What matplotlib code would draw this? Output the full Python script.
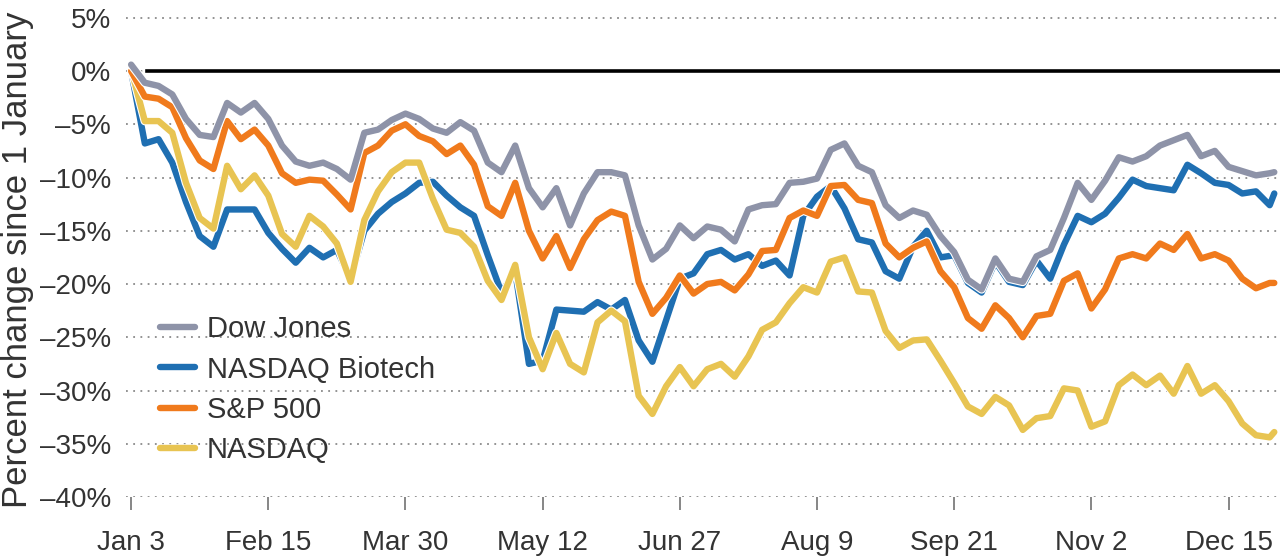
" 2022 index performance, percent change since 1 January "
import matplotlib
matplotlib.use("Agg")
import matplotlib.pyplot as plt
import matplotlib.patheffects as pe
import numpy as np

# trading day index (0 = Jan 3), sampled every 3 sessions + last session
day = np.r_[np.arange(0, 250, 3), 250]

dow = [0.6, -1.1, -1.4, -2.2, -4.5, -6.0, -6.2, -3.0, -3.9, -3.0,
       -4.5, -7.0, -8.5, -8.9, -8.6, -9.2, -10.2, -5.8, -5.5, -4.6,
       -4.0, -4.5, -5.4, -5.8, -4.8, -5.6, -8.6, -9.5, -7.0, -11.0,
       -12.8, -11.0, -14.5, -11.5, -9.5, -9.5, -9.8, -14.5, -17.7, -16.7,
       -14.5, -15.7, -14.6, -14.9, -16.0, -13.0, -12.6, -12.5, -10.5, -10.4,
       -10.1, -7.4, -6.8, -8.9, -9.5, -12.6, -13.8, -13.1, -13.5, -15.5,
       -17.0, -19.6, -20.5, -17.6, -19.5, -19.8, -17.4, -16.8, -13.8, -10.5,
       -12.1, -10.3, -8.1, -8.5, -8.0, -7.0, -6.5, -6.0, -8.0, -7.5,
       -9.0, -9.4, -9.8, -9.6, -9.5]

biotech = [0.0, -6.8, -6.4, -8.6, -12.3, -15.5, -16.5, -13.0, -13.0, -13.0,
           -15.2, -16.7, -18.0, -16.6, -17.5, -16.8, -19.5, -15.0, -13.4, -12.3,
           -11.5, -10.5, -10.4, -11.7, -12.8, -13.6, -17.3, -20.8, -18.8, -27.5,
           -27.2, -22.4, -22.5, -22.6, -21.7, -22.4, -21.5, -25.3, -27.3, -23.4,
           -19.5, -19.0, -17.2, -16.8, -17.7, -17.2, -18.3, -17.8, -19.2, -13.6,
           -11.8, -10.8, -12.9, -15.8, -16.1, -18.8, -19.5, -16.5, -15.0, -17.5,
           -17.3, -19.9, -20.8, -17.9, -19.8, -20.1, -17.8, -19.5, -16.3, -13.6,
           -14.2, -13.4, -11.9, -10.2, -10.8, -11.0, -11.2, -8.8, -9.6, -10.5,
           -10.7, -11.5, -11.3, -12.6, -11.5]

sp500 = [0.0, -2.4, -2.6, -3.4, -6.3, -8.4, -9.2, -4.7, -6.4, -5.5,
         -7.0, -9.6, -10.5, -10.2, -10.3, -11.6, -13.0, -7.7, -7.0, -5.6,
         -5.0, -6.1, -6.6, -7.8, -7.0, -8.8, -12.7, -13.6, -10.5, -15.0,
         -17.6, -15.5, -18.5, -15.8, -14.0, -13.2, -13.6, -19.8, -22.8, -21.3,
         -19.2, -20.9, -20.0, -19.8, -20.6, -19.1, -16.9, -16.8, -13.8, -13.1,
         -13.6, -10.8, -10.7, -12.1, -12.4, -16.2, -17.5, -16.6, -16.0, -18.8,
         -20.3, -23.2, -24.2, -22.0, -23.2, -25.0, -23.0, -22.8, -19.7, -19.0,
         -22.3, -20.5, -17.6, -17.2, -17.6, -16.2, -16.8, -15.3, -17.6, -17.2,
         -17.8, -19.5, -20.4, -19.9, -19.9]

nasdaq = [0.2, -4.7, -4.7, -5.8, -10.5, -13.8, -14.8, -8.9, -11.1, -9.8,
          -11.7, -15.3, -16.5, -13.6, -14.6, -16.2, -19.8, -14.0, -11.3, -9.5,
          -8.6, -8.6, -12.0, -14.9, -15.2, -16.5, -19.7, -21.5, -18.2, -25.0,
          -28.0, -24.6, -27.5, -28.3, -23.6, -22.5, -23.5, -30.5, -32.2, -29.6,
          -27.8, -29.6, -28.0, -27.5, -28.7, -26.8, -24.3, -23.6, -21.8, -20.3,
          -20.8, -17.9, -17.5, -20.7, -20.8, -24.4, -26.0, -25.3, -25.2, -27.2,
          -29.3, -31.5, -32.2, -30.6, -31.4, -33.7, -32.6, -32.4, -29.8, -30.0,
          -33.4, -32.9, -29.5, -28.5, -29.5, -28.6, -30.3, -27.7, -30.3, -29.5,
          -31.0, -33.1, -34.2, -34.4, -33.9]

tick_days = [0, 30, 60, 90, 120, 150, 180, 210, 240]
tick_labels = ["Jan 3", "Feb 15", "Mar 30", "May 12", "Jun 27",
               "Aug 9", "Sep 21", "Nov 2", "Dec 15"]
yticks = np.arange(-40, 6, 5)

plt.rcParams['font.family'] = ['Liberation Sans', 'DejaVu Sans']
txt = "#333333"

fig = plt.figure(figsize=(12.8, 5.6), dpi=100)
ax = fig.add_axes([0.0985, 0.1125, 0.9015, 0.8843])

halo = [pe.Stroke(linewidth=6.2, foreground="white"), pe.Normal()]
series = [("NASDAQ Biotech", biotech, "#1f6fb2", 2),
          ("NASDAQ", nasdaq, "#e8c452", 3),
          ("S&P 500", sp500, "#f07a1c", 4),
          ("Dow Jones", dow, "#8e93a8", 5)]
lines = {}
for name, vals, col, z in series:
    ll, = ax.plot(day, vals, color=col, lw=4.6, zorder=z,
                  solid_joinstyle="round", solid_capstyle="round",
                  path_effects=halo)
    lines[name] = ll

ax.axhline(0, xmin=0.018, xmax=1, color="black", lw=2.6, zorder=1)

ax.set_xlim(-1.1, 251.25)
ax.set_ylim(-40, 6.5)
ax.set_yticks(yticks)
ax.set_yticklabels([("%d%%" % v).replace("-", "\u2013") for v in yticks])
ax.set_xticks(tick_days)
ax.set_xticklabels(tick_labels)
ax.grid(axis="y", color="#8a8a8a", lw=1.3, linestyle=(0, (1, 3)))
ax.set_axisbelow(True)
for s in ax.spines.values():
    s.set_visible(False)
ax.tick_params(axis="y", length=0, pad=11, labelsize=20, labelcolor=txt)
ax.tick_params(axis="x", length=9, width=1.1, color="#666666", pad=15,
               labelsize=20, labelcolor=txt)

ax.set_ylabel("Percent change since 1 January", fontsize=25, color=txt)
ax.yaxis.set_label_coords(-0.08, 0.478)

order = ["Dow Jones", "NASDAQ Biotech", "S&P 500", "NASDAQ"]
ax.legend([lines[n] for n in order], order, loc="upper left",
          bbox_to_anchor=(0.0295, 0.367), frameon=False, fontsize=21,
          handlelength=1.2, handletextpad=0.4, labelspacing=0.42,
          borderpad=0, borderaxespad=0, labelcolor=txt)

fig.savefig("out.png", dpi=100)
